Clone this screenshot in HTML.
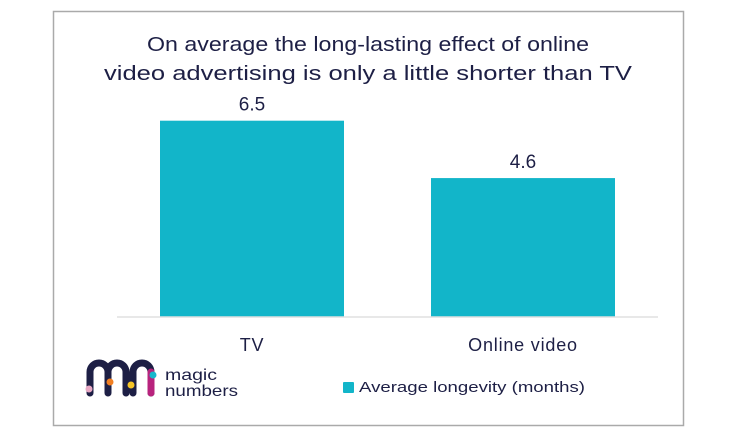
<!DOCTYPE html>
<html><head><meta charset="utf-8"><style>
body{margin:0;width:736px;height:433px;background:#fff;overflow:hidden;font-family:"Liberation Sans",sans-serif;}
</style></head><body>
<svg width="736" height="433">
<rect x="53.5" y="11.5" width="630" height="414" fill="#fff" stroke="#aaa" stroke-width="1.5"/>
<text x="147" y="51" textLength="442" lengthAdjust="spacingAndGlyphs" font-size="20" fill="#1d1f45">On average the long-lasting effect of online</text>
<text x="104" y="80" textLength="528" lengthAdjust="spacingAndGlyphs" font-size="20" fill="#1d1f45">video advertising is only a little shorter than TV</text>
<g id="bars"></g>
<line x1="117" y1="317" x2="658" y2="317" stroke="#e0e0e0" stroke-width="1.5"/>
<g>
<path d="M90 393 V372 a9 9 0 0 1 18 0 V393 M108 372 a9 9 0 0 1 18 0 V393 M133 393 V372 a9 9 0 0 1 18 0 V393" fill="none" stroke="#1d1f45" stroke-width="7" stroke-linecap="round"/>
<path d="M151 372 V393" stroke="#b8237d" stroke-width="7" stroke-linecap="round"/>
<circle cx="89" cy="389" r="3.5" fill="#e8a8c4"/><circle cx="110" cy="382" r="3.5" fill="#f07f23"/><circle cx="131" cy="385" r="3.5" fill="#f5c427"/><circle cx="153" cy="375" r="3.5" fill="#16b8cc"/>
<text x="165" y="380" font-size="16" textLength="52" lengthAdjust="spacingAndGlyphs" fill="#1d1f45">magic</text>
<text x="165" y="396" font-size="16" textLength="73" lengthAdjust="spacingAndGlyphs" fill="#1d1f45">numbers</text>
</g>
<rect x="343" y="382" width="11" height="11" rx="1" fill="#12b5c9"/>
<text x="359" y="392" font-size="15" textLength="226" lengthAdjust="spacingAndGlyphs" fill="#1d1f45">Average longevity (months)</text>
</svg>
<script>
const categories=["TV","Online video"];
const values=[6.5,4.6];
const labels=["6.5","4.6"];
const g=document.getElementById('bars');
const NS="http://www.w3.org/2000/svg";
const y=v=>317-v*30.2;
const xc=i=>252+i*271;
categories.forEach((c,i)=>{
 const r=document.createElementNS(NS,'rect');
 r.setAttribute('x',xc(i)-92);r.setAttribute('width',184);
 r.setAttribute('y',y(values[i]));r.setAttribute('height',317-y(values[i]));
 r.setAttribute('fill','#12b5c9');
 
 
 g.appendChild(r);
 const t=document.createElementNS(NS,'text');
 t.setAttribute('x',xc(i));t.setAttribute('y',y(values[i])-10);
 t.setAttribute('text-anchor','middle');t.setAttribute('font-size','19');t.setAttribute('fill','#1d1f45');
 t.textContent=labels[i];
 
 
 g.appendChild(t);
 const x=document.createElementNS(NS,'text');
 x.setAttribute('x',xc(i));x.setAttribute('y',351);
 x.setAttribute('text-anchor','middle');x.setAttribute('font-size','18');x.setAttribute('fill','#1d1f45');
 x.setAttribute('letter-spacing','0.8');
 x.textContent=c;
 
 
 g.appendChild(x);
});
</script>
</body></html>
